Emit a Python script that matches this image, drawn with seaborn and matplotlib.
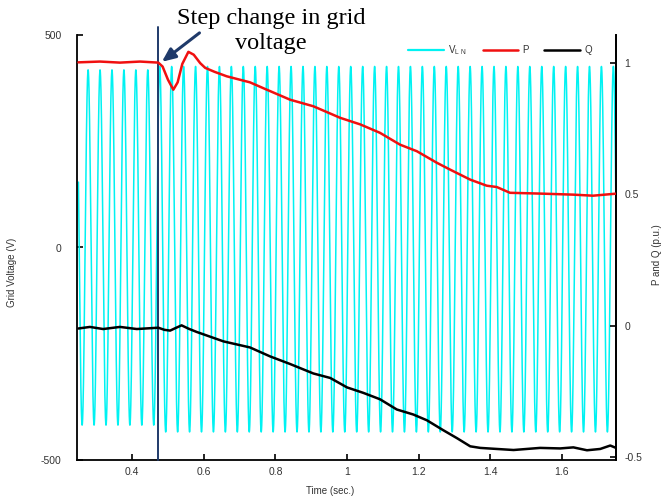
import numpy as np
import pandas as pd
import matplotlib
matplotlib.use("Agg")
import matplotlib.pyplot as plt
import seaborn as sns

# ---- data ----
step_time = 0.472            # s, step change in grid voltage
v_freq_hz = 30.0             # apparent waveform frequency
v_peak_t0 = 0.277            # time of first positive peak (s)
v_amp_pre = 418.0            # V, amplitude before step
v_amp_post = 430.0           # V, amplitude after step
v_offset_post = -4.0         # V, slight offset after step
v_t_start, v_t_end = 0.250, 1.752

p_time = [0.250, 0.310, 0.366, 0.422, 0.473, 0.485, 0.500, 0.515, 0.527, 0.540,
          0.557, 0.572, 0.590, 0.604, 0.630, 0.664, 0.729, 0.776, 0.841, 0.906,
          0.981, 1.037, 1.092, 1.148, 1.195, 1.251, 1.288, 1.344, 1.390, 1.418,
          1.455, 1.539, 1.631, 1.687, 1.753]
p_value = [1.001, 1.004, 1.000, 1.004, 1.000, 0.985, 0.935, 0.897, 0.925, 0.995,
           1.041, 1.030, 0.998, 0.980, 0.965, 0.948, 0.925, 0.897, 0.859, 0.834,
           0.790, 0.765, 0.733, 0.688, 0.663, 0.619, 0.593, 0.555, 0.532, 0.527,
           0.505, 0.502, 0.498, 0.494, 0.502]

q_time = [0.250, 0.282, 0.319, 0.366, 0.413, 0.473, 0.490, 0.506, 0.520, 0.538,
          0.558, 0.580, 0.655, 0.729, 0.785, 0.841, 0.906, 0.953, 1.000, 1.046,
          1.092, 1.139, 1.185, 1.223, 1.269, 1.307, 1.344, 1.372, 1.418, 1.465,
          1.539, 1.595, 1.632, 1.670, 1.707, 1.735, 1.751]
q_value = [-0.011, -0.005, -0.013, -0.005, -0.013, -0.008, -0.016, -0.019, -0.010, 0.001,
           -0.012, -0.024, -0.060, -0.083, -0.117, -0.146, -0.182, -0.199, -0.235, -0.256,
           -0.280, -0.319, -0.338, -0.360, -0.398, -0.428, -0.459, -0.465, -0.469, -0.473,
           -0.465, -0.467, -0.463, -0.474, -0.469, -0.456, -0.465]

x_ticks = [0.4, 0.6, 0.8, 1.0, 1.2, 1.4, 1.6]
x_ticklabels = ["0.4", "0.6", "0.8", "1", "1.2", "1.4", "1.6"]
v_ticks = [-500, 0, 500]
v_ticklabels = ["-500", "0", "500"]
pq_ticks = [-0.5, 0, 0.5, 1]
pq_ticklabels = ["-0.5", "0", "0.5", "1"]

# ---- build waveform table ----
t = np.linspace(v_t_start, v_t_end, 6000)
amp = np.where(t < step_time, v_amp_pre, v_amp_post)
off = np.where(t < step_time, 0.0, v_offset_post)
v_df = pd.DataFrame({"t": t, "v": amp * np.cos(2 * np.pi * v_freq_hz * (t - v_peak_t0)) + off})
p_df = pd.DataFrame({"t": p_time, "p": p_value})
q_df = pd.DataFrame({"t": q_time, "q": q_value})

sns.set_style("white")
plt.rcParams["font.family"] = ["Liberation Sans", "DejaVu Sans"]

fig = plt.figure(figsize=(6.67, 4.98), dpi=100)
ax = fig.add_axes([77 / 667, 38 / 498, 539 / 667, 425 / 498])
ax2 = ax.twinx()

cyan = "#00f2f2"
sns.lineplot(data=v_df, x="t", y="v", ax=ax, color=cyan, lw=1.1, sort=False,
             estimator=None, legend=False)
sns.lineplot(data=p_df, x="t", y="p", ax=ax2, color="#f01010", lw=1.8, sort=False,
             estimator=None, legend=False, zorder=4)
sns.lineplot(data=q_df, x="t", y="q", ax=ax2, color="#000000", lw=1.8, sort=False,
             estimator=None, legend=False, zorder=4)
for ln in ax2.get_lines():
    ln.set_solid_joinstyle("round")

navy = "#1f3a6a"
ax2.axvline(step_time, ymin=0, ymax=1.019, color=navy, lw=1.4, clip_on=False, zorder=3)

ax.set_xlim(0.246, 1.751)
ax.set_ylim(-500, 500)
ax2.set_ylim(-0.511, 1.105)

ax.set_xticks(x_ticks)
ax.set_xticklabels(x_ticklabels)
ax.set_yticks(v_ticks)
ax.set_yticklabels(v_ticklabels)
ax2.set_yticks(pq_ticks)
ax2.set_yticklabels(pq_ticklabels)

for a in (ax, ax2):
    a.spines["top"].set_visible(False)
    for s in a.spines.values():
        s.set_linewidth(1.3)
        s.set_color("black")
ax2.spines["left"].set_visible(False)
ax2.spines["bottom"].set_visible(False)

ax.tick_params(axis="x", direction="in", length=4, width=1.2, labelsize=7.5, pad=5,
               colors="black", labelcolor="#333333", bottom=True)
ax.tick_params(axis="y", direction="in", length=4, width=1.2, labelsize=7.5, pad=11,
               colors="black", labelcolor="#333333", left=True)
ax2.tick_params(axis="y", direction="in", length=4, width=1.2, labelsize=7.5, pad=6,
                colors="black", labelcolor="#333333", right=True)

ax.set_xlabel("Time (sec.)", fontsize=7, color="#333333")
ax.xaxis.set_label_coords((330 - 77) / 539, (460 - 486) / 425)
ax.set_ylabel("Grid Voltage (V)", fontsize=7, color="#333333")
ax.yaxis.set_label_coords((17 - 77) / 539, (460 - 272) / 425)
ax2.set_ylabel("P and Q (p.u.)", fontsize=7, color="#333333", rotation=90)
ax2.yaxis.set_label_coords((652 - 77) / 539, (460 - 255) / 425)

# annotation
ax2.annotate("", xy=(0.483, 1.003), xytext=(0.588, 1.113), annotation_clip=False,
             arrowprops=dict(arrowstyle="-|>,head_length=0.8,head_width=0.35",
                             color=navy, lw=2.2, shrinkA=0, shrinkB=0), zorder=6)
fig.text(271 / 667, 1 - 31 / 498, "Step change in grid\nvoltage", ha="center", va="center",
         fontsize=17.5, family=["Liberation Serif", "DejaVu Serif"], linespacing=1.2,
         color="black")

# legend
h_v, = ax.plot([], [], color=cyan, lw=1.6)
h_p, = ax.plot([], [], color="#f01010", lw=1.8)
h_q, = ax.plot([], [], color="black", lw=1.8)
leg = ax2.legend([h_v, h_p, h_q], [r"V$_{\mathregular{L\ N}}$", "P", "Q"], ncol=3,
                 loc="center", bbox_to_anchor=((500 - 77) / 539, (460 - 50) / 425),
                 frameon=False, fontsize=7, handlelength=3.7, handletextpad=0.4,
                 columnspacing=1.6, labelcolor="#333333")

fig.savefig("out.png", dpi=100)
